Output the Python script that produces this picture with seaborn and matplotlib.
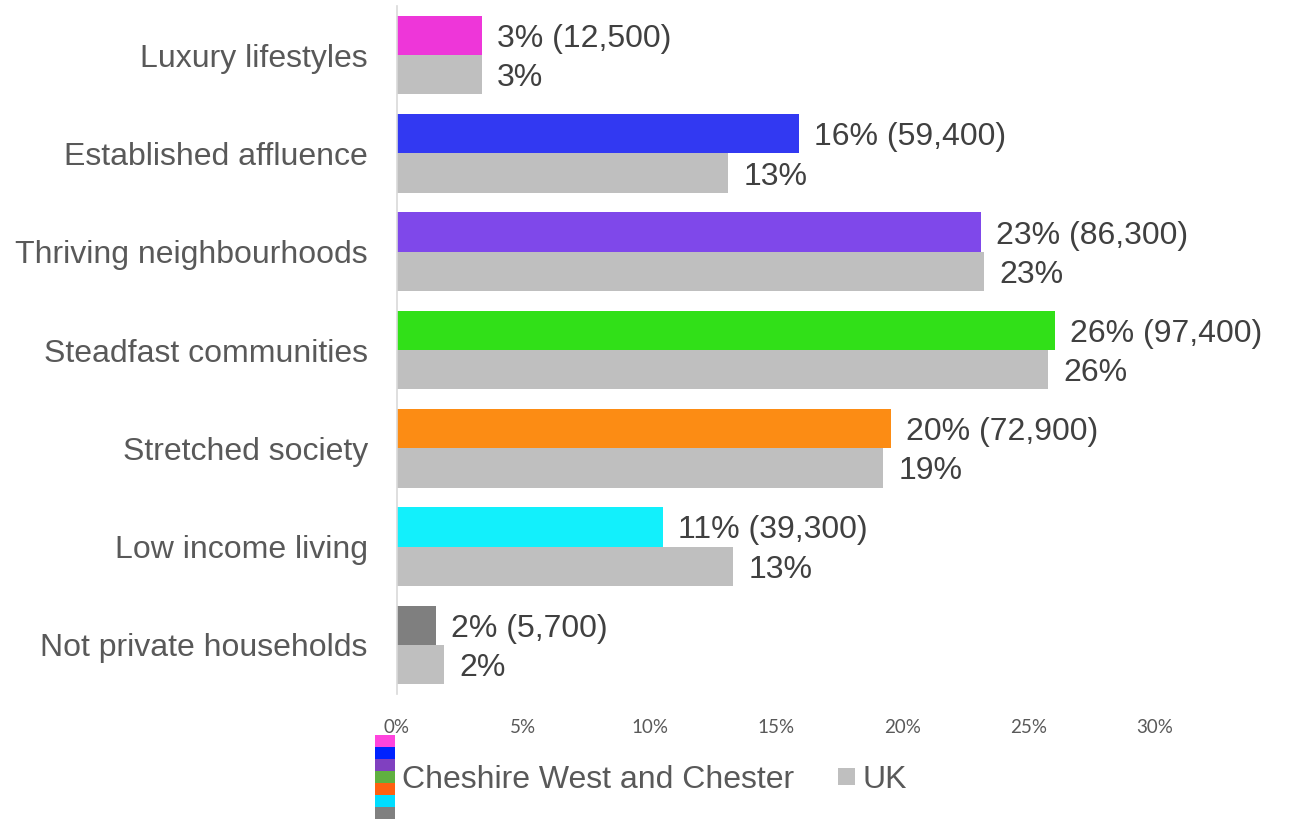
import matplotlib
matplotlib.use("Agg")
import matplotlib.pyplot as plt
import seaborn as sns
import pandas as pd
from matplotlib.legend_handler import HandlerBase
from matplotlib.patches import Rectangle
from matplotlib.ticker import FuncFormatter

categories = ["Luxury lifestyles", "Established affluence", "Thriving neighbourhoods",
              "Steadfast communities", "Stretched society", "Low income living",
              "Not private households"]
cwac_pct = [3.36, 15.9, 23.1, 26.05, 19.55, 10.53, 1.54]
uk_pct = [3.36, 13.1, 23.25, 25.75, 19.25, 13.3, 1.86]
cwac_households = [12500, 59400, 86300, 97400, 72900, 39300, 5700]
series = ["Cheshire West and Chester", "UK"]
cwac_colors = ["#EE36D9", "#3239F2", "#7F48EA", "#31E018", "#FC8C14", "#12F0FC", "#7F7F7F"]
legend_colors = ["#FF44DD", "#0022FF", "#8040C0", "#60B040", "#FF6010", "#00DDFF", "#808080"]
uk_color = "#BFBFBF"
xticks = [0, 5, 10, 15, 20, 25, 30]

df = pd.DataFrame({
    "category": categories * 2,
    "value": cwac_pct + uk_pct,
    "series": [series[0]] * len(categories) + [series[1]] * len(categories),
})

sns.set_theme(style="white")
plt.rcParams["font.family"] = ["Liberation Sans", "DejaVu Sans"]

fig = plt.figure(figsize=(12.91, 8.25), dpi=100)
ax = fig.add_axes([397 / 1291, 1 - 694 / 825, (1155 - 397) / 1291, (694 - 6) / 825])

sns.barplot(data=df, y="category", x="value", hue="series", orient="h",
            palette={series[0]: "#7F7F7F", series[1]: uk_color},
            width=0.8, saturation=1, ax=ax, legend=False)

for patch, c in zip(ax.containers[0], cwac_colors):
    patch.set_facecolor(c)
    patch.set_edgecolor("none")
for patch in ax.containers[1]:
    patch.set_edgecolor("none")

cwac_labels = [f"{round(v)}% ({n:,})" for v, n in zip(cwac_pct, cwac_households)]
uk_labels = [f"{round(v)}%" for v in uk_pct]
for container, labels in [(ax.containers[0], cwac_labels), (ax.containers[1], uk_labels)]:
    for patch, lab in zip(container, labels):
        ax.annotate(lab, xy=(patch.get_x() + patch.get_width(), patch.get_y() + patch.get_height() / 2),
                    xytext=(11, -2.5), textcoords="offset points", ha="left", va="center",
                    fontsize=23, color="#404040")

ax.set_xlim(0, 30)
ax.set_ylim(6.5, -0.5)
ax.set_xticks(xticks)
ax.xaxis.set_major_formatter(FuncFormatter(lambda v, p: f"{int(v)}%"))
ax.tick_params(axis="x", labelsize=13.5, labelcolor="#595959", length=0, pad=18)
for t in ax.get_xticklabels():
    t.set_fontfamily(["Lato", "DejaVu Sans"])
ax.tick_params(axis="y", labelsize=23, labelcolor="#595959", length=0, pad=21)
ax.set_xlabel("")
ax.set_ylabel("")
for s in ["top", "right", "bottom"]:
    ax.spines[s].set_visible(False)
ax.spines["left"].set_color("#D9D9D9")
ax.spines["left"].set_linewidth(1.2)
ax.grid(False)


class StackHandler(HandlerBase):
    def __init__(self, colors):
        super().__init__()
        self.colors = colors

    def create_artists(self, legend, orig_handle, xdescent, ydescent, width, height, fontsize, trans):
        n = len(self.colors)
        seg = 12.0 * 72 / 100
        total = seg * n
        y0 = -ydescent + height / 2 + total / 2
        arts = []
        for i, c in enumerate(self.colors):
            r = Rectangle((-xdescent, y0 - (i + 1) * seg), width, seg,
                          facecolor=c, edgecolor="none", transform=trans)
            arts.append(r)
        return arts


class SquareHandler(HandlerBase):
    def create_artists(self, legend, orig_handle, xdescent, ydescent, width, height, fontsize, trans):
        s = 17 * 72 / 100
        r = Rectangle((-xdescent + width - s, -ydescent + height / 2 - s / 2), s, s,
                      facecolor=uk_color, edgecolor="none", transform=trans)
        return [r]


h1 = Rectangle((0, 0), 1, 1)
h2 = Rectangle((0, 0), 1, 1)
fig.legend([h1, h2], series, handler_map={h1: StackHandler(legend_colors), h2: SquareHandler()},
           loc="center left", bbox_to_anchor=(375 / 1291, 1 - 780 / 825),
           ncol=2, frameon=False, fontsize=23, labelcolor="#595959",
           handlelength=0.62, handletextpad=0.22, columnspacing=1.3, borderpad=0, borderaxespad=0)

fig.savefig("out.png", dpi=100, facecolor="white")
